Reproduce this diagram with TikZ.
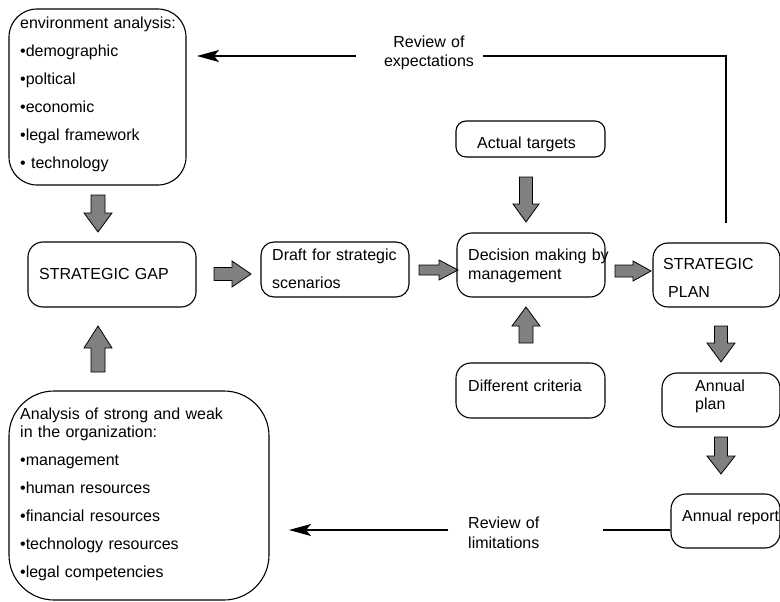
\documentclass[tikz,border=0pt]{standalone}
\usepackage{fontspec}
\setmainfont{Liberation Sans}
\usetikzlibrary{arrows.meta}

\definecolor{blockgray}{RGB}{128,128,128}

\tikzset{
  x=1pt, y=-1pt,
  box/.style={draw, line width=1.1pt, inner sep=0pt},
  txt/.style={anchor=base west, inner sep=0pt, align=left, text width=#1,
              font=\fontsize{16}{28}\selectfont},
  txt/.default=260pt,
  flow/.style={line width=1.1pt},
  tip/.style={-{Stealth[length=22pt,width=12pt,inset=5pt]}},
  pics/blockarrow/.style n args={4}{code={
    % length, head length, shaft half width, head half width
    \draw[fill=blockgray, line width=0.8pt, line join=miter]
      (0,-#3) -- (#1-#2,-#3) -- (#1-#2,-#4) -- (#1,0) -- (#1-#2,#4)
      -- (#1-#2,#3) -- (0,#3) -- cycle;
  }},
}

\begin{document}
\begin{tikzpicture}
\useasboundingbox (0,0) rectangle (780,602);

% ---- boxes ----
\node[box, rounded corners=28pt, minimum width=177pt, minimum height=176pt] (env) at (97.5,97) {};
\node[box, rounded corners=15pt, minimum width=168pt, minimum height=65pt] (gap) at (112,274.5) {};
\node[box, rounded corners=13pt, minimum width=148pt, minimum height=55pt] (draft) at (335,269.5) {};
\node[box, rounded corners=10pt, minimum width=149pt, minimum height=36pt] (targets) at (530.5,139) {};
\node[box, rounded corners=15pt, minimum width=148pt, minimum height=64pt] (decision) at (531,265) {};
\node[box, rounded corners=15pt, minimum width=127pt, minimum height=64pt] (plan) at (716.5,275) {};
\node[box, rounded corners=15pt, minimum width=149pt, minimum height=55pt] (criteria) at (530.5,390.5) {};
\node[box, rounded corners=15pt, minimum width=118pt, minimum height=54pt] (aplan) at (721,400) {};
\node[box, rounded corners=15pt, minimum width=109pt, minimum height=54pt] (report) at (725.5,521) {};
\node[box, rounded corners=45pt, minimum width=260pt, minimum height=209pt] (analysis) at (139,495.5) {};

% ---- texts ----
\node[txt] (envtxt) at (20,28.5) {environment analysis:\\
  •demographic\\ •poltical\\ •economic\\ •legal framework\\ • technology};
\node[txt] (gaptxt) at (39,279.5) {STRATEGIC GAP};
\node[txt] (drafttxt) at (272,260.5) {Draft for strategic\\ scenarios};
\node[txt] (dectxt) at (468,260.5) {Decision making by\\[-9pt] management};
\node[txt] (targtxt) at (477,148.5) {Actual targets};
\node[txt] (plantxt) at (663,269.5) {STRATEGIC\\ \hspace*{5pt}PLAN};
\node[txt] (crittxt) at (468,391.5) {Different criteria};
\node[txt] (aplantxt) at (695,391.5) {Annual\\[-10pt] plan};
\node[txt] (reptxt) at (682,521.5) {Annual report};
\node[txt] (antxt) at (20,419.5) {Analysis of strong and weak\\[-10pt]
  in the organization:\\ •management\\ •human resources\\
  •financial resources\\ •technology resources\\ •legal competencies};

% ---- feedback loops ----
\node[txt=120pt, align=center, anchor=base, font=\fontsize{16}{19}\selectfont]
  (revexp) at (429,47.5) {Review of\\ expectations};
\coordinate (expstart) at (726,223);
\coordinate (expgapR) at (483,56);
\coordinate (expgapL) at (356,56);
\coordinate (expend) at (197,56);
\draw[flow] (expstart) |- (expgapR);
\draw[flow, tip] (expgapL) -- (expend);

\node[txt=100pt, font=\fontsize{16}{20}\selectfont] (revlim) at (468,528.5) {Review of\\ limitations};
\coordinate (limgapR) at (603,530);
\coordinate (limgapL) at (448,530);
\coordinate (limend) at (289,530);
\draw[flow] (report.west |- limgapR) -- (limgapR);
\draw[flow, tip] (limgapL) -- (limend);

% ---- block arrows ----
\pic[rotate=-90] at (98,195) {blockarrow={37}{19}{7}{14}};
\pic[rotate=90]  at (98,372) {blockarrow={46}{22}{7}{14}};
\pic at (214,274) {blockarrow={37}{19}{6.5}{13}};
\pic at (419,270) {blockarrow={39}{19}{5}{10}};
\pic at (615,271) {blockarrow={36}{18}{6}{10}};
\pic[rotate=-90] at (526,177) {blockarrow={45}{18}{6.5}{13}};
\pic[rotate=90]  at (526,343) {blockarrow={36}{19}{7}{14}};
\pic[rotate=-90] at (721,326) {blockarrow={36}{19}{6.5}{14}};
\pic[rotate=-90] at (721,437) {blockarrow={37}{18}{6.5}{14}};
\end{tikzpicture}
\end{document}
